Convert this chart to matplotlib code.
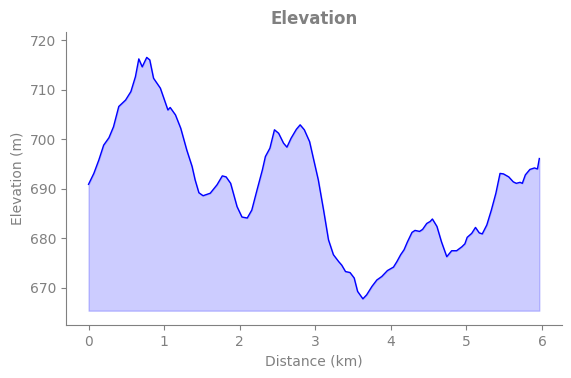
import matplotlib
matplotlib.use("Agg")
import matplotlib.pyplot as plt

# distance (km) and elevation (m)
distance = [0.0, 0.07, 0.136, 0.2, 0.27, 0.33, 0.4, 0.49, 0.56, 0.62, 0.665, 0.71, 0.77, 0.81,
            0.86, 0.95, 1.05, 1.08, 1.15, 1.22, 1.30, 1.37, 1.41, 1.46, 1.515, 1.61, 1.70, 1.77,
            1.82, 1.88, 1.965, 2.03, 2.10, 2.16, 2.23, 2.30, 2.34, 2.40, 2.46, 2.515, 2.58, 2.625,
            2.68, 2.75, 2.80, 2.855, 2.925, 2.98, 3.04, 3.11, 3.175, 3.24, 3.31, 3.35, 3.40, 3.46,
            3.515, 3.56, 3.63, 3.68, 3.75, 3.815, 3.88, 3.955, 4.035, 4.08, 4.13, 4.175, 4.22,
            4.28, 4.32, 4.38, 4.42, 4.475, 4.52, 4.55, 4.61, 4.67, 4.74, 4.805, 4.87, 4.94, 4.98,
            5.01, 5.07, 5.12, 5.17, 5.21, 5.27, 5.33, 5.39, 5.445, 5.49, 5.56, 5.62, 5.66, 5.71,
            5.74, 5.78, 5.84, 5.90, 5.94, 5.965]
elevation = [690.9, 693.1, 695.8, 698.8, 700.3, 702.5, 706.6, 707.9, 709.6, 712.6, 716.2, 714.6, 716.5, 716.0,
             712.3, 710.3, 705.9, 706.4, 704.9, 702.2, 697.8, 694.5, 691.8, 689.2, 688.6, 689.1, 690.8, 692.6,
             692.4, 691.1, 686.4, 684.3, 684.1, 685.7, 689.8, 693.8, 696.5, 698.2, 701.9, 701.2, 699.2, 698.4,
             700.2, 702.0, 702.9, 701.9, 699.5, 695.8, 691.8, 685.7, 679.7, 676.7, 675.3, 674.6, 673.3, 673.1,
             672.0, 669.3, 667.8, 668.6, 670.3, 671.6, 672.3, 673.5, 674.2, 675.3, 676.7, 677.7, 679.3,
             681.2, 681.6, 681.4, 681.8, 683.0, 683.4, 683.9, 682.4, 679.3, 676.3, 677.5, 677.5, 678.3, 678.9,
             680.2, 681.0, 682.2, 681.1, 680.9, 682.7, 685.7, 689.1, 693.1, 693.0, 692.4, 691.4, 691.1, 691.3,
             691.1, 692.8, 693.9, 694.2, 694.0, 696.1]
base = 665.4

fig = plt.figure(figsize=(5.71, 3.78), dpi=100)
ax = fig.add_axes([0.1156, 0.140, 0.8684, 0.775])

ax.plot(distance, elevation, color="blue", linewidth=1)
ax.fill_between(distance, elevation, base, color="blue", alpha=0.2)

ax.set_ylim(662.5, 721.6)
ax.set_xticks([0, 1, 2, 3, 4, 5, 6])
ax.set_yticks([670, 680, 690, 700, 710, 720])

ax.set_title("Elevation", color="gray", fontweight="bold", fontsize=12)
ax.set_xlabel("Distance (km)", color="gray")
ax.set_ylabel("Elevation (m)", color="gray")
ax.tick_params(colors="gray")
for s in ["top", "right"]:
    ax.spines[s].set_visible(False)
for s in ["left", "bottom"]:
    ax.spines[s].set_color("gray")

fig.savefig("out.png", dpi=100)
